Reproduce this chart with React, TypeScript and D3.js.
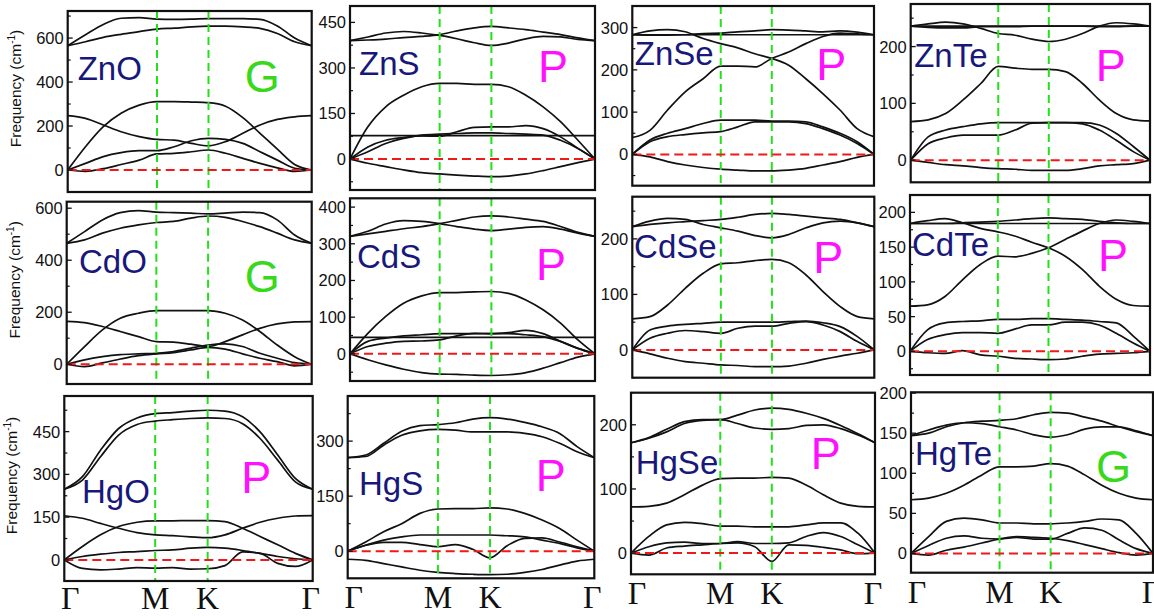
import React from 'react';
import * as d3 from 'd3';

// k-path positions (Γ-M-K-Γ, in units of 2π/a) where the branch values were read
const kPath = [0, 0.115, 0.23, 0.345, 0.462, 0.577, 0.688, 0.8, 0.91, 1.02, 1.132, 1.243, 1.355, 1.467, 1.577];
const kTicks = [0, 0.577, 0.91, 1.577];
const kLabels = ['Γ', 'M', 'K', 'Γ'];

const materials = ['ZnO', 'ZnS', 'ZnSe', 'ZnTe', 'CdO', 'CdS', 'CdSe', 'CdTe', 'HgO', 'HgS', 'HgSe', 'HgTe'];
const phases = ['G', 'P', 'P', 'P', 'G', 'P', 'P', 'P', 'P', 'P', 'P', 'G'];

// phonon branches, cm^-1
const znoBands = [
  [565, 615, 662, 690, 693, 686, 685, 686, 688, 688, 688, 685, 655, 600, 565],
  [565, 583, 603, 617, 629, 641, 645, 651, 654, 654, 651, 644, 621, 583, 565],
  [0, 106, 197, 258, 295, 311, 311, 309, 306, 290, 238, 167, 95, 25, 0],
  [247, 235, 205, 174, 152, 139, 136, 121, 110, 129, 167, 205, 230, 242, 247],
  [0, 30, 61, 79, 88, 88, 106, 133, 144, 139, 121, 83, 45, 8, 0],
  [0, -6, 6, 25, 45, 73, 76, 83, 91, 76, 53, 30, 10, -6, 0],
];
const znsBands = [
  [390, 402, 415, 420, 415, 407, 396, 383, 374, 382, 396, 404, 402, 394, 390],
  [390, 392, 395, 400, 404, 410, 422, 432, 437, 432, 426, 418, 410, 399, 390],
  [0, 106, 172, 210, 238, 249, 249, 246, 246, 238, 210, 172, 123, 62, 0],
  [77, 77, 77, 77, 77, 77, 77, 77, 77, 77, 77, 77, 77, 77, 77],
  [0, 40, 62, 71, 76, 75, 90, 104, 106, 106, 110, 100, 73, 35, 0],
  [0, 24, 51, 68, 79, 82, 84, 86, 86, 84, 82, 79, 62, 35, 0],
  [0, -14, -25, -36, -45, -49, -53, -56, -58, -56, -49, -38, -25, -12, 0],
];
const znseBands = [
  [283, 283, 283, 283, 283, 283, 283, 283, 283, 283, 283, 283, 283, 283, 283],
  [283, 282, 282, 283, 286, 287, 290, 292, 295, 294, 292, 290, 292, 289, 283],
  [283, 292, 295, 290, 274, 262, 252, 238, 227, 211, 179, 144, 105, 61, 42],
  [40, 57, 105, 148, 179, 209, 209, 207, 227, 242, 262, 279, 287, 285, 283],
  [0, 34, 50, 61, 73, 81, 81, 81, 79, 79, 77, 65, 50, 30, 0],
  [0, 30, 42, 47, 51, 54, 65, 77, 77, 77, 73, 61, 46, 26, 0],
  [0, -6, -17, -25, -31, -35, -37, -39, -39, -37, -33, -25, -17, -7, 0],
];
const znteBands = [
  [236, 236, 236, 236, 236, 236, 236, 236, 236, 236, 236, 236, 236, 236, 236],
  [236, 240, 243, 240, 232, 223, 220, 213, 209, 213, 223, 236, 242, 240, 236],
  [236, 234, 233, 233, 235, 235, 235, 236, 236, 236, 236, 235, 235, 236, 236],
  [68, 71, 82, 106, 135, 165, 162, 160, 160, 156, 135, 106, 82, 71, 69],
  [0, 41, 53, 59, 64, 66, 66, 66, 66, 66, 66, 62, 47, 24, 0],
  [0, 29, 39, 44, 44, 44, 53, 65, 66, 66, 64, 53, 35, 15, 0],
  [0, -4, -8, -10, -13, -15, -16, -18, -18, -18, -15, -10, -8, -6, 0],
];
const cdoBands = [
  [465, 510, 555, 583, 591, 585, 583, 581, 578, 581, 585, 583, 555, 497, 465],
  [465, 478, 504, 523, 536, 545, 549, 562, 570, 565, 549, 529, 504, 478, 465],
  [0, 68, 132, 177, 196, 206, 206, 206, 206, 196, 170, 126, 74, 29, 0],
  [165, 160, 145, 126, 106, 87, 85, 77, 68, 87, 113, 138, 155, 163, 164],
  [0, 17, 29, 37, 40, 42, 49, 62, 74, 78, 68, 42, 23, 6, 0],
  [0, -9, 5, 20, 33, 40, 45, 55, 65, 58, 40, 23, 10, -6, 0],
];
const cdsBands = [
  [320, 334, 354, 363, 361, 355, 347, 340, 336, 340, 345, 347, 340, 329, 320],
  [320, 327, 334, 341, 347, 355, 364, 373, 376, 373, 367, 361, 347, 331, 320],
  [0, 56, 102, 138, 158, 167, 167, 169, 170, 165, 147, 120, 84, 38, 0],
  [45, 45, 45, 45, 45, 45, 45, 45, 45, 45, 45, 45, 45, 45, 45],
  [0, 20, 29, 34, 35, 38, 49, 56, 55, 58, 64, 55, 34, 15, 0],
  [0, 34, 43, 49, 52, 55, 55, 55, 55, 55, 52, 47, 34, 15, 0],
  [0, -16, -30, -42, -51, -55, -56, -58, -59, -57, -51, -39, -24, -9, 0],
];
const cdseBands = [
  [222, 226, 229, 231, 233, 235, 239, 244, 246, 244, 241, 238, 235, 229, 222],
  [222, 232, 237, 235, 226, 220, 214, 206, 202, 208, 220, 229, 232, 229, 222],
  [56, 60, 81, 111, 138, 155, 157, 161, 163, 157, 135, 105, 78, 60, 56],
  [0, 36, 43, 46, 48, 50, 50, 50, 50, 51, 52, 49, 42, 24, 0],
  [0, 21, 30, 35, 33, 30, 39, 43, 43, 48, 51, 45, 33, 15, 0],
  [0, -7, -15, -21, -24, -27, -28, -30, -30, -29, -24, -17, -11, -6, 0],
];
const cdteBands = [
  [184, 184, 184, 184, 184, 184, 184, 184, 184, 184, 184, 184, 184, 184, 184],
  [184, 184, 184, 185, 186, 187, 189, 191, 192, 191, 190, 187, 185, 184, 184],
  [184, 188, 191, 185, 177, 172, 166, 157, 149, 137, 118, 94, 75, 66, 65],
  [65, 67, 79, 103, 125, 137, 136, 141, 149, 161, 173, 184, 189, 187, 184],
  [0, 31, 41, 43, 44, 46, 46, 47, 47, 46, 45, 43, 41, 22, 0],
  [0, 17, 24, 27, 27, 26, 32, 38, 38, 42, 42, 38, 26, 12, 0],
  [0, -2, -3, 1, -5, -7, -10, -11, -12, -11, -7, -4, -3, -2, 0],
];
const hgoBands = [
  [248, 292, 385, 461, 498, 513, 517, 522, 525, 522, 502, 449, 368, 286, 248],
  [248, 280, 362, 438, 475, 487, 492, 496, 498, 496, 478, 426, 350, 274, 248],
  [155, 146, 128, 111, 96, 88, 85, 81, 78, 88, 111, 132, 146, 154, 155],
  [0, 47, 88, 117, 132, 137, 137, 138, 138, 134, 111, 82, 53, 23, 0],
  [0, 12, 20, 26, 29, 33, 35, 41, 44, 41, 33, 23, 12, 4, 0],
  [0, -30, -35, -32, -27, -29, -27, -32, -31, -20, 28, 23, -12, -23, 0],
];
const hgsBands = [
  [255, 262, 294, 327, 342, 345, 350, 360, 364, 360, 351, 339, 321, 285, 255],
  [255, 258, 289, 316, 328, 332, 330, 325, 325, 325, 321, 312, 294, 271, 255],
  [0, 25, 53, 75, 103, 115, 116, 116, 118, 115, 103, 85, 62, 30, 0],
  [0, 16, 30, 39, 44, 44, 44, 44, 44, 42, 39, 30, 21, 9, 0],
  [0, 16, 24, 24, 18, 12, 18, 5, -18, 15, 35, 36, 25, 12, 0],
  [-22, -25, -34, -43, -52, -58, -61, -63, -64, -63, -58, -50, -38, -27, -22],
];
const hgseBands = [
  [172, 180, 193, 205, 208, 208, 215, 223, 226, 224, 218, 210, 199, 186, 172],
  [172, 179, 189, 202, 207, 208, 202, 195, 193, 194, 199, 200, 194, 184, 172],
  [72, 73, 78, 91, 106, 116, 117, 117, 118, 117, 106, 91, 78, 73, 72],
  [0, 26, 44, 48, 46, 42, 42, 41, 41, 41, 44, 47, 47, 31, 0],
  [0, 10, 16, 17, 15, 15, 18, 15, 15, 16, 26, 32, 26, 13, 0],
  [0, -3, 8, 11, 13, 15, 16, 10, -13, 13, 12, 9, 5, -1, 0],
];
const hgteBands = [
  [147, 150, 158, 163, 165, 166, 168, 173, 176, 175, 170, 165, 158, 152, 147],
  [147, 154, 160, 163, 162, 158, 154, 148, 145, 148, 155, 158, 158, 153, 147],
  [67, 69, 75, 85, 98, 108, 108, 109, 112, 109, 98, 85, 75, 69, 67],
  [0, 21, 40, 44, 42, 38, 38, 37, 37, 38, 40, 43, 42, 25, 0],
  [0, 10, 19, 22, 19, 18, 20, 18, 18, 25, 32, 29, 17, 6, 0],
  [0, -2, 4, 8, 13, 18, 21, 20, 19, 16, 11, 6, 1, -2, 0],
];
const bandSets = [znoBands, znsBands, znseBands, znteBands, cdoBands, cdsBands, cdseBands, cdteBands, hgoBands, hgsBands, hgseBands, hgteBands];

const yTicks = [
  [0, 200, 400, 600], [0, 150, 300, 450], [0, 100, 200, 300], [0, 100, 200],
  [0, 200, 400, 600], [0, 100, 200, 300, 400], [0, 100, 200], [0, 50, 100, 150, 200],
  [0, 150, 300, 450], [0, 150, 300], [0, 100, 200], [0, 50, 100, 150, 200],
];
const yDomains = [
  [-100, 723], [-102, 504], [-74, 351], [-39, 275],
  [-76, 625], [-74, 424], [-50, 276], [-34, 225],
  [-74, 575], [-74, 423], [-33, 250], [-24, 201],
];

// layout: frame boxes [x0, y0, x1, y1] and label offsets from the frame's top-left
const frames = [
  [67.7, 11, 311.7, 192], [350, 6, 595, 190], [632.3, 6, 874, 185.7], [910.7, 4, 1150, 182.3],
  [66.7, 201.7, 311.7, 384], [350, 198.3, 595, 381], [632.3, 196.7, 874.3, 377.7], [910, 195, 1150, 375],
  [64.3, 396, 312.7, 581], [347.7, 396, 594.3, 578.3], [631, 392.7, 875, 574.3], [911, 392.3, 1153, 572.7],
];
const nameOffsets = [
  [10, 69], [9, 69], [2.5, 59], [3.5, 62.7],
  [12.3, 71.3], [7, 69.7], [1.8, 61.3], [2, 60.7],
  [17.7, 107], [11.3, 99], [4.7, 81.3], [4, 72.7],
];
const phaseOffsets = [
  [177, 81], [188, 76], [184, 74], [185, 77],
  [178, 90], [186, 81.7], [181, 76.3], [188, 76],
  [177, 97], [188, 95], [179.7, 76.3], [185, 89.4],
];

const sans = 'Liberation Sans, Arial, Helvetica, sans-serif';
const serif = 'Liberation Serif, Times New Roman, serif';

function Panel({ i }: { i: number }) {
  const [x0, y0, x1, y1] = frames[i];
  const x = d3.scaleLinear().domain([0, kTicks[3]]).range([x0, x1]);
  const y = d3.scaleLinear().domain(yDomains[i]).range([y1, y0]);
  const line = d3.line<number>()
    .x((_, j) => x(kPath[j]))
    .y(d => y(d))
    .curve(d3.curveMonotoneX);

  const ticks = yTicks[i];
  const step = ticks[1] - ticks[0];
  const [dMin, dMax] = yDomains[i];
  const minor: number[] = [];
  for (let v = Math.ceil(dMin / (step / 2)) * (step / 2); v <= dMax; v += step / 2) {
    if (!ticks.includes(v)) minor.push(v);
  }
  const clipId = `clip-${i}`;
  const col = i % 4;
  const row = Math.floor(i / 4);

  return (
    <g>
      <defs>
        <clipPath id={clipId}>
          <rect x={x0} y={y0} width={x1 - x0} height={y1 - y0} />
        </clipPath>
      </defs>
      <g clipPath={`url(#${clipId})`}>
        {bandSets[i].map((b, j) => (
          <path key={j} d={line(b) || ''} fill="none" stroke="#111" strokeWidth={1.7} />
        ))}
        {[kTicks[1], kTicks[2]].map((k, j) => (
          <line key={j} x1={x(k)} x2={x(k)} y1={y0} y2={y1}
            stroke="#22e01a" strokeWidth={2} strokeDasharray="8,5" />
        ))}
        <line x1={x0} x2={x1} y1={y(0)} y2={y(0)} stroke="#f01818" strokeWidth={2} strokeDasharray="9,5" />
      </g>
      <rect x={x0} y={y0} width={x1 - x0} height={y1 - y0} fill="none" stroke="#111" strokeWidth={2.2} />
      {ticks.map(t => (
        <g key={t}>
          <line x1={x0} x2={x0 + 5} y1={y(t)} y2={y(t)} stroke="#111" strokeWidth={1.3} />
          <text x={x0 - 4} y={y(t)} dy="0.36em" textAnchor="end" fontFamily={sans} fontSize={16.5} fill="#111">{t}</text>
        </g>
      ))}
      {minor.map(t => (
        <line key={t} x1={x0} x2={x0 + 3} y1={y(t)} y2={y(t)} stroke="#111" strokeWidth={1.2} />
      ))}
      <text x={x0 + nameOffsets[i][0]} y={y0 + nameOffsets[i][1]} fontFamily={sans} fontSize={33} fill="#18187a">
        {materials[i]}
      </text>
      <text x={x0 + phaseOffsets[i][0]} y={y0 + phaseOffsets[i][1]} fontFamily={sans} fontSize={45}
        fill={phases[i] === 'G' ? '#38d81a' : '#ff10ff'}>
        {phases[i]}
      </text>
      {col === 0 && (
        <text transform={`translate(${x0 - 47},${(y0 + y1) / 2 - 13}) rotate(-90)`} textAnchor="middle"
          fontFamily={sans} fontSize={15.5} fill="#111">
          Frequency (cm<tspan fontSize={10} dy={-6}>-1</tspan><tspan dy={6}>)</tspan>
        </text>
      )}
      {row === 2 && kTicks.map((k, j) => (
        <text key={j} x={x(k) + (j === 0 ? 6 : j === 3 ? -2 : 0)} y={Math.min(y1 + 30, 609)} textAnchor="middle"
          fontFamily={serif} fontSize={32} fill="#111">
          {kLabels[j]}
        </text>
      ))}
    </g>
  );
}

export default function App() {
  return (
    <svg width={1154} height={616} style={{ position: 'absolute', left: 0, top: 0, background: '#fff' }}>
      {materials.map((_, i) => <Panel key={i} i={i} />)}
    </svg>
  );
}
